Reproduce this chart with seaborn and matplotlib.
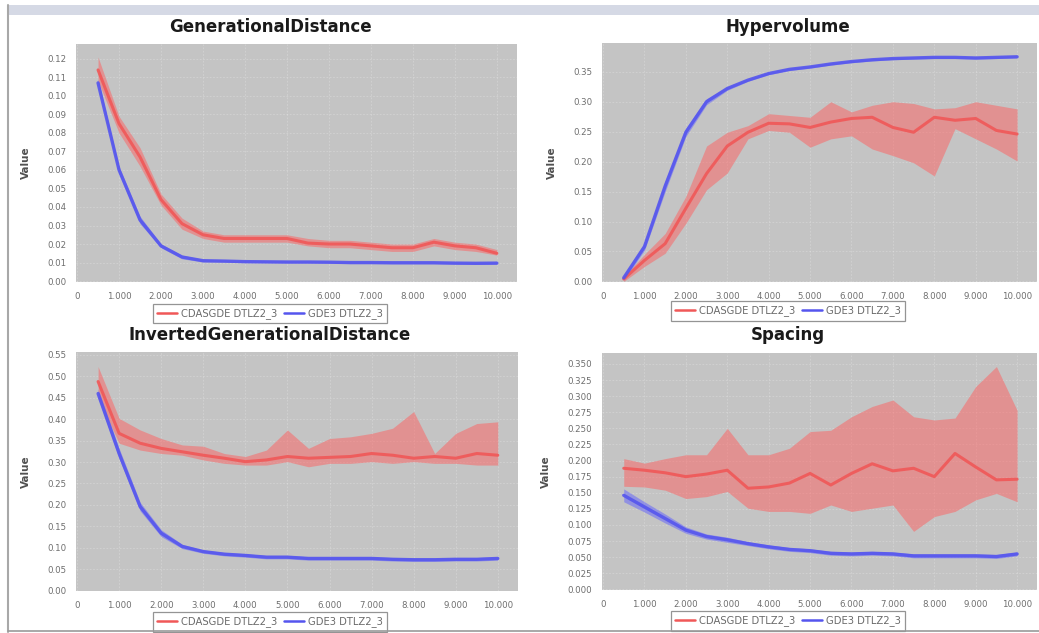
import matplotlib
matplotlib.use("Agg")
import matplotlib.pyplot as plt
from matplotlib.ticker import FuncFormatter, MultipleLocator, FormatStrFormatter
from matplotlib.lines import Line2D
from matplotlib.patches import Rectangle
import pandas as pd
import seaborn as sns

# ---------------------------------------------------------------- data
generations = [500, 1000, 1500, 2000, 2500, 3000, 3500, 4000, 4500, 5000,
               5500, 6000, 6500, 7000, 7500, 8000, 8500, 9000, 9500, 10000]

series_names = ["CDASGDE DTLZ2_3", "GDE3 DTLZ2_3"]

# GenerationalDistance
gd_cdas_mean = [0.114, 0.085, 0.067, 0.044, 0.031, 0.025, 0.023, 0.023, 0.023, 0.023,
                0.0205, 0.020, 0.020, 0.019, 0.018, 0.018, 0.021, 0.019, 0.018, 0.015]
gd_cdas_lo = [0.108, 0.080, 0.062, 0.041, 0.028, 0.023, 0.021, 0.021, 0.021, 0.021,
              0.019, 0.018, 0.018, 0.017, 0.016, 0.016, 0.019, 0.017, 0.016, 0.014]
gd_cdas_hi = [0.121, 0.089, 0.072, 0.047, 0.034, 0.027, 0.025, 0.025, 0.025, 0.025,
              0.023, 0.022, 0.022, 0.021, 0.020, 0.020, 0.023, 0.021, 0.020, 0.017]
gd_gde3_mean = [0.107, 0.060, 0.033, 0.019, 0.013, 0.011, 0.0108, 0.0105, 0.0104, 0.0103,
                0.0103, 0.0102, 0.0100, 0.0100, 0.0099, 0.0099, 0.0099, 0.0097, 0.0096, 0.0097]
gd_gde3_lo = [0.105, 0.058, 0.031, 0.018, 0.012, 0.0103, 0.0102, 0.0099, 0.0098, 0.0097,
              0.0097, 0.0096, 0.0094, 0.0094, 0.0093, 0.0093, 0.0093, 0.0091, 0.0090, 0.0091]
gd_gde3_hi = [0.109, 0.062, 0.035, 0.020, 0.014, 0.0117, 0.0114, 0.0111, 0.0110, 0.0109,
              0.0109, 0.0108, 0.0106, 0.0106, 0.0105, 0.0105, 0.0105, 0.0103, 0.0102, 0.0103]

# Hypervolume
hv_cdas_mean = [0.004, 0.035, 0.063, 0.122, 0.180, 0.226, 0.249, 0.264, 0.263, 0.257,
                0.266, 0.272, 0.274, 0.257, 0.249, 0.274, 0.269, 0.272, 0.252, 0.246]
hv_cdas_lo = [0.000, 0.025, 0.047, 0.097, 0.153, 0.181, 0.238, 0.252, 0.249, 0.224,
              0.238, 0.243, 0.221, 0.210, 0.198, 0.176, 0.255, 0.238, 0.221, 0.201]
hv_cdas_hi = [0.008, 0.045, 0.080, 0.142, 0.226, 0.249, 0.260, 0.280, 0.277, 0.274,
              0.300, 0.283, 0.294, 0.300, 0.297, 0.288, 0.290, 0.300, 0.294, 0.288]
hv_gde3_mean = [0.006, 0.058, 0.159, 0.249, 0.300, 0.322, 0.336, 0.347, 0.354, 0.358,
                0.363, 0.367, 0.370, 0.372, 0.373, 0.374, 0.374, 0.373, 0.374, 0.375]
hv_gde3_lo = [0.002, 0.052, 0.150, 0.242, 0.295, 0.319, 0.334, 0.345, 0.352, 0.356,
              0.361, 0.365, 0.368, 0.370, 0.371, 0.372, 0.372, 0.371, 0.372, 0.373]
hv_gde3_hi = [0.010, 0.064, 0.168, 0.256, 0.305, 0.325, 0.338, 0.349, 0.356, 0.360,
              0.365, 0.369, 0.372, 0.374, 0.375, 0.376, 0.376, 0.375, 0.376, 0.377]

# InvertedGenerationalDistance
igd_cdas_mean = [0.488, 0.367, 0.344, 0.332, 0.324, 0.316, 0.309, 0.301, 0.305, 0.313,
                 0.309, 0.311, 0.313, 0.320, 0.316, 0.309, 0.313, 0.309, 0.320, 0.316]
igd_cdas_lo = [0.449, 0.344, 0.328, 0.320, 0.316, 0.305, 0.297, 0.293, 0.293, 0.301,
               0.289, 0.297, 0.297, 0.301, 0.297, 0.301, 0.297, 0.297, 0.293, 0.293]
igd_cdas_hi = [0.523, 0.402, 0.375, 0.355, 0.340, 0.337, 0.320, 0.313, 0.328, 0.375,
               0.332, 0.355, 0.359, 0.367, 0.379, 0.418, 0.320, 0.367, 0.390, 0.394]
igd_gde3_mean = [0.460, 0.320, 0.196, 0.134, 0.103, 0.091, 0.085, 0.082, 0.078, 0.078,
                 0.075, 0.075, 0.075, 0.075, 0.073, 0.072, 0.072, 0.073, 0.073, 0.075]
igd_gde3_lo = [0.450, 0.308, 0.186, 0.126, 0.098, 0.087, 0.081, 0.078, 0.074, 0.074,
               0.071, 0.071, 0.071, 0.071, 0.069, 0.068, 0.068, 0.069, 0.069, 0.071]
igd_gde3_hi = [0.470, 0.332, 0.206, 0.142, 0.108, 0.095, 0.089, 0.086, 0.082, 0.082,
               0.079, 0.079, 0.079, 0.079, 0.077, 0.076, 0.076, 0.077, 0.077, 0.079]

# Spacing
sp_cdas_mean = [0.188, 0.185, 0.181, 0.175, 0.179, 0.185, 0.157, 0.159, 0.165, 0.180,
                0.162, 0.180, 0.195, 0.184, 0.188, 0.175, 0.211, 0.190, 0.170, 0.171]
sp_cdas_lo = [0.160, 0.159, 0.154, 0.141, 0.144, 0.152, 0.126, 0.121, 0.121, 0.118,
              0.131, 0.121, 0.126, 0.131, 0.090, 0.113, 0.121, 0.139, 0.149, 0.136]
sp_cdas_hi = [0.203, 0.196, 0.203, 0.209, 0.209, 0.250, 0.209, 0.209, 0.219, 0.245,
              0.247, 0.268, 0.284, 0.294, 0.268, 0.263, 0.266, 0.315, 0.346, 0.278]
sp_gde3_mean = [0.146, 0.128, 0.110, 0.092, 0.082, 0.077, 0.071, 0.066, 0.062, 0.060,
                0.056, 0.055, 0.056, 0.055, 0.052, 0.052, 0.052, 0.052, 0.051, 0.055]
sp_gde3_lo = [0.136, 0.120, 0.103, 0.087, 0.078, 0.073, 0.068, 0.063, 0.059, 0.057,
              0.053, 0.052, 0.053, 0.052, 0.049, 0.049, 0.049, 0.049, 0.048, 0.052]
sp_gde3_hi = [0.156, 0.136, 0.117, 0.097, 0.086, 0.081, 0.074, 0.069, 0.065, 0.063,
              0.059, 0.058, 0.059, 0.058, 0.055, 0.055, 0.055, 0.055, 0.054, 0.058]

# ---------------------------------------------------------------- style
sns.set_theme(style="white")
plt.rcParams["font.family"] = ["DejaVu Sans"]

RED = "#f05858"
RED_FILL = "#ff5f5f"
BLUE = "#5555ee"
BLUE_FILL = "#6060ff"
PLOT_BG = "#c4c4c4"

W, H = 1039, 633
fig = plt.figure(figsize=(W / 100, H / 100), dpi=100)
fig.patch.set_facecolor("white")


def rect(left, top, right, bottom):
    return [left / W, 1 - bottom / H, (right - left) / W, (bottom - top) / H]


panels = [
    dict(title="GenerationalDistance", box=(76, 44, 517, 282), center=270,
         title_y=27, legend_y=313.5, ylim=(-0.0005, 0.128), ystep=0.01, yfmt="%.2f",
         cdas=(gd_cdas_mean, gd_cdas_lo, gd_cdas_hi),
         gde3=(gd_gde3_mean, gd_gde3_lo, gd_gde3_hi)),
    dict(title="Hypervolume", box=(602, 43, 1037, 282), center=788,
         title_y=27, legend_y=311, ylim=(-0.001, 0.398), ystep=0.05, yfmt="%.2f",
         cdas=(hv_cdas_mean, hv_cdas_lo, hv_cdas_hi),
         gde3=(hv_gde3_mean, hv_gde3_lo, hv_gde3_hi)),
    dict(title="InvertedGenerationalDistance", box=(76, 352, 518, 591), center=270,
         title_y=335, legend_y=622, ylim=(-0.001, 0.557), ystep=0.05, yfmt="%.2f",
         cdas=(igd_cdas_mean, igd_cdas_lo, igd_cdas_hi),
         gde3=(igd_gde3_mean, igd_gde3_lo, igd_gde3_hi)),
    dict(title="Spacing", box=(602, 353, 1037, 590), center=788,
         title_y=335, legend_y=621, ylim=(-0.001, 0.367), ystep=0.025, yfmt="%.3f",
         cdas=(sp_cdas_mean, sp_cdas_lo, sp_cdas_hi),
         gde3=(sp_gde3_mean, sp_gde3_lo, sp_gde3_hi)),
]

thousands = FuncFormatter(lambda v, _: f"{int(round(v)):,}".replace(",", "."))

for p in panels:
    ax = fig.add_axes(rect(*p["box"]))
    ax.set_facecolor(PLOT_BG)

    for (mean, lo, hi), name, line_c, fill_c, lw in (
        (p["cdas"], series_names[0], RED, RED_FILL, 2.2),
        (p["gde3"], series_names[1], BLUE, BLUE_FILL, 2.4),
    ):
        df = pd.DataFrame({"generation": generations, "value": mean,
                           "lo": lo, "hi": hi})
        ax.fill_between(df["generation"], df["lo"], df["hi"], color=fill_c,
                        alpha=0.5, linewidth=0, zorder=2)
        sns.lineplot(data=df, x="generation", y="value", ax=ax, color=line_c,
                     linewidth=lw, alpha=0.9, zorder=3)

    ax.set_xlim(-25, 10480)
    ax.set_ylim(*p["ylim"])
    ax.xaxis.set_major_locator(MultipleLocator(1000))
    ax.xaxis.set_major_formatter(thousands)
    ax.yaxis.set_major_locator(MultipleLocator(p["ystep"]))
    ax.yaxis.set_major_formatter(FormatStrFormatter(p["yfmt"]))
    ax.grid(True, color="white", alpha=0.25, linewidth=0.6, linestyle=(0, (2, 2)))
    ax.set_axisbelow(True)
    ax.tick_params(axis="both", labelsize=6.2, colors="#9a9a9a", labelcolor="#6e6e6e",
                   length=2, width=0.6, pad=5)
    for s in ax.spines.values():
        s.set_visible(False)
    ax.set_xlabel("")
    ax.set_ylabel("Value", fontsize=7.5, fontweight="bold", color="#505050", labelpad=12)

    fig.text(p["center"] / W, 1 - p["title_y"] / H, p["title"], ha="center",
             va="center", fontsize=12, fontweight="bold", color="#1a1a1a")

    handles = [Line2D([], [], color=RED, lw=1.8), Line2D([], [], color=BLUE, lw=1.8)]
    leg = ax.legend(handles, series_names, loc="center", ncol=2,
                    bbox_to_anchor=(p["center"] / W, 1 - p["legend_y"] / H),
                    bbox_transform=fig.transFigure, fontsize=7.2, frameon=True,
                    fancybox=False, borderpad=0.45, handlelength=2.0,
                    handletextpad=0.4, columnspacing=0.6, borderaxespad=0)
    leg.get_frame().set_edgecolor("#7a7a7a")
    leg.get_frame().set_linewidth(0.9)
    for t in leg.get_texts():
        t.set_color("#6a6a6a")

# window frame around the chart panels
fig.patches.append(Rectangle((8 / W, 1 - 15 / H), 1 - 8 / W, 10 / H,
                             transform=fig.transFigure, facecolor="#d5d9e5",
                             edgecolor="none", zorder=0))
fig.add_artist(Line2D([8 / W, 8 / W], [1 - 5 / H, 1 - 632 / H],
                      transform=fig.transFigure, color="#a8a8a8", lw=1.5))
fig.add_artist(Line2D([8 / W, 1], [1 - 631 / H, 1 - 631 / H],
                      transform=fig.transFigure, color="#9a9a9a", lw=1.2))

fig.savefig("out.png", dpi=100)
